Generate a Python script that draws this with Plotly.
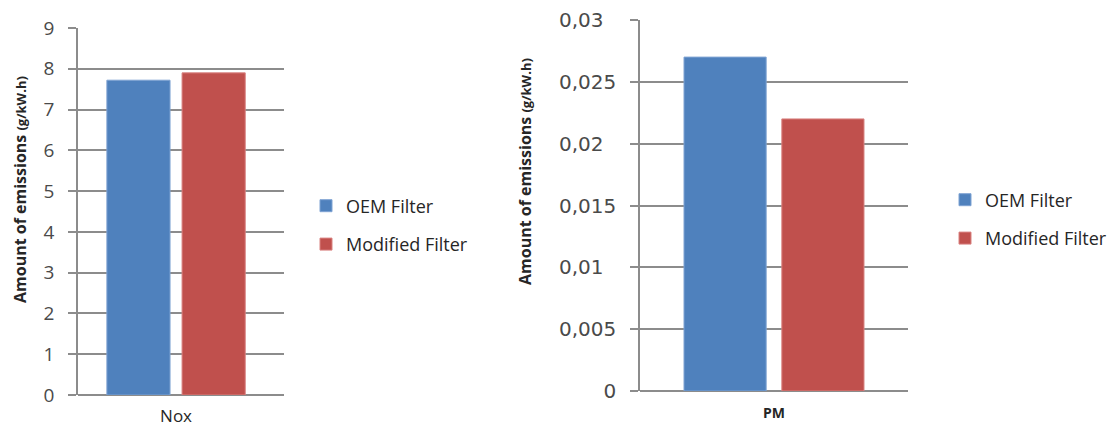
import plotly.graph_objects as go

# Emission measurements, two filter configurations
series_names = ["OEM Filter", "Modified Filter"]
series_colors = ["#4F81BD", "#C0504D"]
edge_colors = ["#7FA3D3", "#D98280"]

nox_category = ["Nox"]
nox_values = [7.72, 7.9]

pm_category = ["PM"]
pm_values = [0.027, 0.022]

nox_tick_vals = [0, 1, 2, 3, 4, 5, 6, 7, 8, 9]
pm_tick_vals = [0, 0.005, 0.01, 0.015, 0.02, 0.025, 0.03]
pm_tick_text = ["0", "0,005", "0,01\u2007", "0,015", "0,02\u2007", "0,025", "0,03\u2007"]

y_title = "Amount of emissions <span style='font-size:13px'>(g/kW.h)</span>"

W, H = 1110, 430
GRID = "#8C8C8C"
TICK_COLOR = "#4A4A4A"
TEXT_DARK = "#262626"


def px_x(p):
    return p / W


def px_y(p):
    return 1 - p / H


fig = go.Figure()

for i, name in enumerate(series_names):
    fig.add_trace(go.Bar(
        x=nox_category, y=[nox_values[i]], name=name,
        marker=dict(color=series_colors[i], line=dict(color=edge_colors[i], width=1)),
        xaxis="x", yaxis="y", legend="legend", legendgroup=name,
        offsetgroup=str(i),
    ))
for i, name in enumerate(series_names):
    fig.add_trace(go.Bar(
        x=pm_category, y=[pm_values[i]], name=name,
        marker=dict(color=series_colors[i], line=dict(color=edge_colors[i], width=1)),
        xaxis="x2", yaxis="y2", legend="legend2", legendgroup=name + "2",
        offsetgroup=str(i),
    ))

yaxis_common = dict(
    showgrid=True, gridcolor=GRID, gridwidth=1.5,
    showline=True, linecolor=GRID, linewidth=1.5,
    ticks="outside", ticklen=8, tickcolor=GRID, tickwidth=1.5,
    zeroline=True, zerolinecolor=GRID, zerolinewidth=1.5,
    fixedrange=True, automargin=False,
)

xaxis_common = dict(
    showline=False, showgrid=False, zeroline=False, ticks="",
    fixedrange=True, automargin=False,
)

legend_common = dict(
    orientation="v", xanchor="left", yanchor="middle",
    bgcolor="rgba(0,0,0,0)", traceorder="grouped", tracegroupgap=12,
    font=dict(family="Open Sans", size=18, color=TEXT_DARK),
)

fig.update_layout(
    width=W, height=H,
    margin=dict(l=0, r=0, t=0, b=0, autoexpand=False),
    paper_bgcolor="white", plot_bgcolor="white",
    separators=", ",
    barmode="group",
    bargap=0.27, bargroupgap=0.16,
    xaxis=dict(
        domain=[px_x(78), px_x(284)], anchor="y",
        range=[-0.476, 0.524],
        tickfont=dict(family="Open Sans", size=17, color=TEXT_DARK),
        ticklabelstandoff=9,
        **xaxis_common,
    ),
    yaxis=dict(
        domain=[px_y(395), px_y(28)], anchor="x",
        range=[0, 9], tickvals=nox_tick_vals,
        tickfont=dict(family="Open Sans", size=19, color=TICK_COLOR),
        ticklabelstandoff=10,
        **yaxis_common,
    ),
    xaxis2=dict(
        domain=[px_x(640), px_x(908)], anchor="y2",
        range=[-0.5, 0.5],
        tickfont=dict(family="Open Sans", size=14, color=TEXT_DARK, weight="bold"),
        ticklabelstandoff=12,
        **xaxis_common,
    ),
    yaxis2=dict(
        domain=[px_y(391), px_y(20)], anchor="x2",
        range=[0, 0.03], tickvals=pm_tick_vals, ticktext=pm_tick_text,
        tickfont=dict(family="DejaVu Sans", size=20, color=TICK_COLOR),
        ticklabelstandoff=10,
        **yaxis_common,
    ),
    legend=dict(x=px_x(306), y=px_y(225), **legend_common),
    legend2=dict(x=px_x(945), y=px_y(219), **legend_common),
    showlegend=True,
    annotations=[
        dict(text=y_title, textangle=-90, x=px_x(20), y=px_y(190),
             xref="paper", yref="paper", showarrow=False,
             xanchor="center", yanchor="middle",
             font=dict(family="Open Sans", size=16, color=TEXT_DARK, weight="bold")),
        dict(text=y_title, textangle=-90, x=px_x(525), y=px_y(172),
             xref="paper", yref="paper", showarrow=False,
             xanchor="center", yanchor="middle",
             font=dict(family="Open Sans", size=16, color=TEXT_DARK, weight="bold")),
    ],
)

fig.write_html("out.html")
